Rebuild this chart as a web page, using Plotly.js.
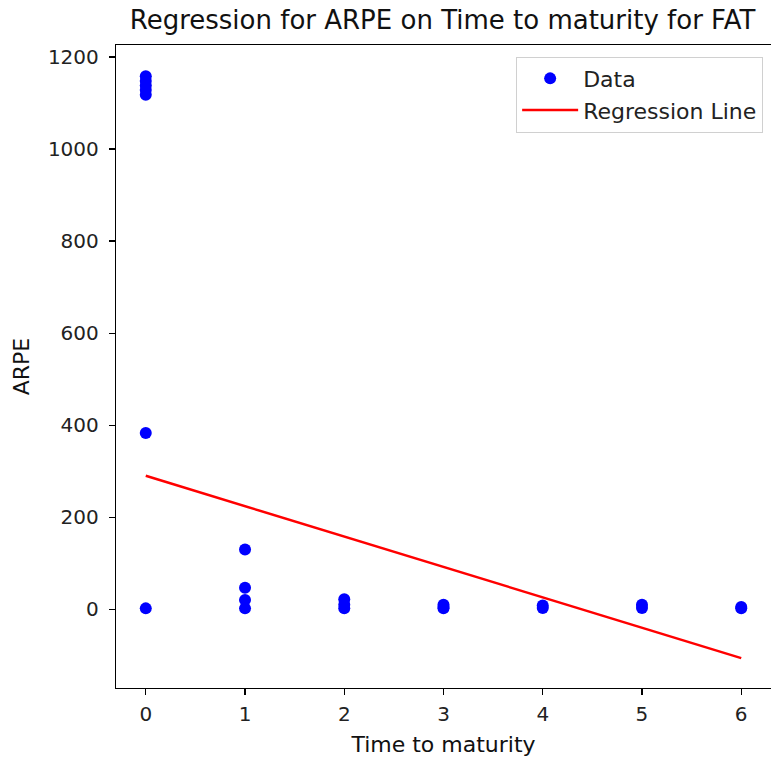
<!DOCTYPE html>
<html>
<head>
<meta charset="utf-8">
<script src="https://cdn.plot.ly/plotly-3.0.1.min.js"></script>
<style>html,body{margin:0;padding:0;background:#fff;}#chart{width:771px;height:758px;}</style>
</head>
<body>
<div id="chart"></div>
<script>
// Observed data (Time to maturity vs ARPE)
const timeToMaturity = [0,0,0,0,0,0,0, 1,1,1,1, 2,2,2, 3,3,3, 4,4, 5,5, 6,6];
const arpe = [1158,1148,1138,1128,1118,383,2, 130,47,20,2, 22,10,2, 10,5,2, 8,3, 10,3, 5,2];
// Regression line endpoints
const regX = [0, 6];
const regY = [290, -106];

const FONT = 'DejaVu Sans';
const traces = [
  {x: timeToMaturity, y: arpe, type: 'scatter', mode: 'markers', name: 'Data',
   marker: {color: '#0000ff', size: 12}},
  {x: regX, y: regY, type: 'scatter', mode: 'lines', name: 'Regression Line',
   line: {color: '#ff0000', width: 2.5}}
];

const axisCommon = {showline: true, linecolor: '#000', linewidth: 1.2, mirror: true,
  ticks: 'outside', ticklen: 6, tickwidth: 1.2, tickcolor: '#000', showgrid: false, zeroline: false,
  automargin: false, tickfont: {family: FONT, size: 20, color: '#222'}};

const layout = {
  width: 771, height: 758,
  margin: {l: 116, r: 0, t: 45, b: 70},
  paper_bgcolor: '#fff', plot_bgcolor: '#fff',
  title: {text: 'Regression for ARPE on Time to maturity for FAT', x: 0.574, xanchor: 'center', y: 0.974, yanchor: 'middle',
    font: {family: FONT, size: 26, color: '#111'}},
  xaxis: Object.assign({}, axisCommon, {range: [-0.3, 6.3], tickvals: [0,1,2,3,4,5,6],
    ticklabelstandoff: 2,
    title: {text: 'Time to maturity', standoff: 11, font: {family: FONT, size: 22, color: '#111'}}}),
  yaxis: Object.assign({}, axisCommon, {range: [-171, 1226], tickvals: [0,200,400,600,800,1000,1200],
    ticklabelstandoff: 6,
    title: {text: 'ARPE', standoff: 12, font: {family: FONT, size: 22, color: '#111'}}}),
  showlegend: true,
  legend: {x: 0.988, y: 0.982, xanchor: 'right', yanchor: 'top', bordercolor: '#d0d0d0', borderwidth: 1,
    bgcolor: '#fff', font: {family: FONT, size: 22, color: '#222'}, tracegroupgap: 0, itemwidth: 56}
};

Plotly.newPlot('chart', traces, layout, {displayModeBar: false, staticPlot: true});
</script>
</body>
</html>
